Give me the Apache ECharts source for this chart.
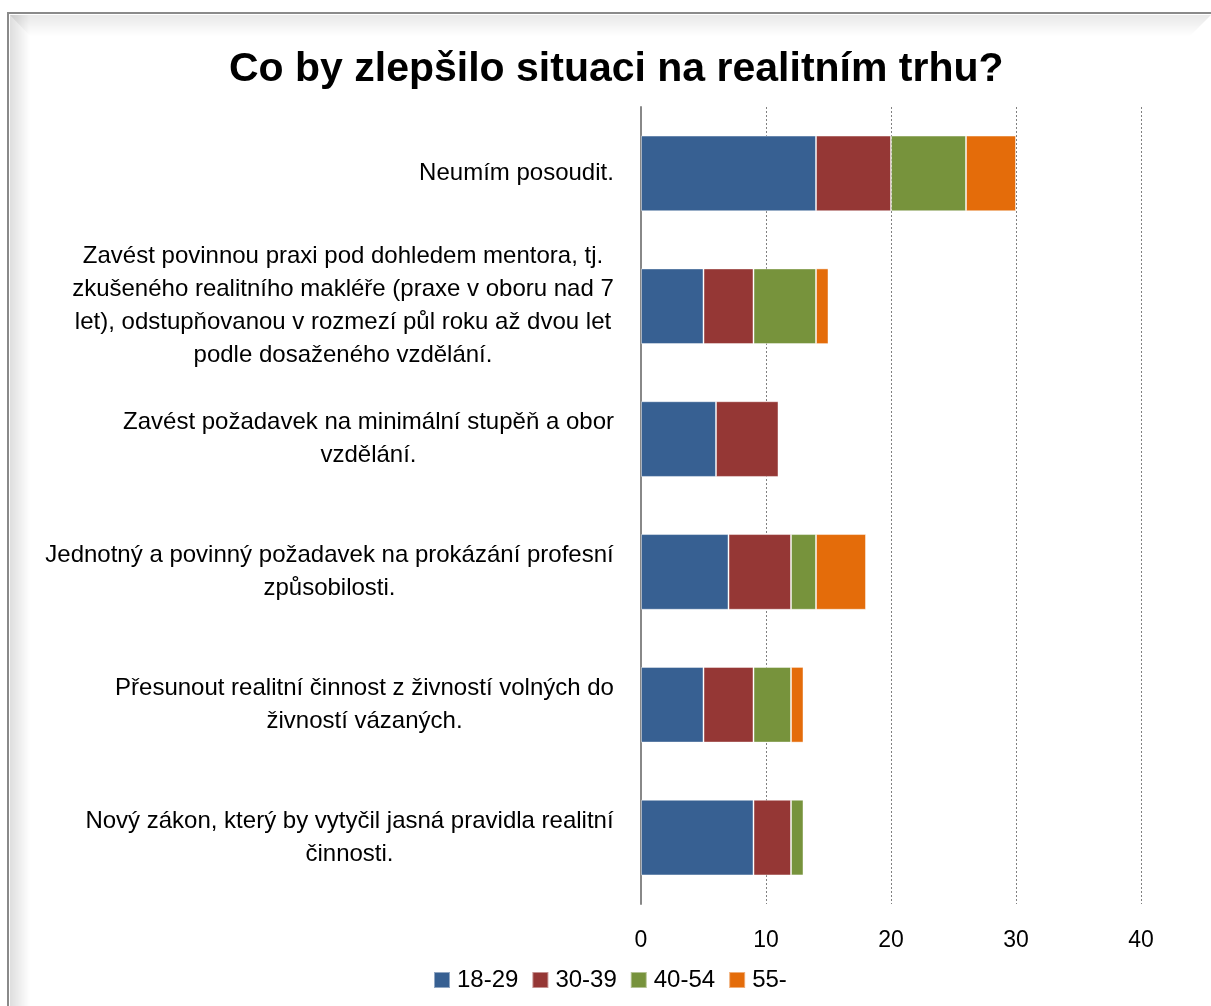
<!DOCTYPE html>
<html><head><meta charset="utf-8">
<script src="https://cdn.jsdelivr.net/npm/echarts@6/dist/echarts.min.js"></script>
<style>html,body{margin:0;padding:0;background:#fff}#c{width:1211px;height:1006px}</style>
</head><body><div id="c"></div>
<script>
const categories = [
  "Neumím posoudit.",
  "Zavést povinnou praxi pod dohledem mentora, tj.\nzkušeného realitního makléře (praxe v oboru nad 7\nlet), odstupňovanou v rozmezí půl roku až dvou let\npodle dosaženého vzdělání.",
  "Zavést požadavek na minimální stupěň a obor\nvzdělání.",
  "Jednotný a povinný požadavek na prokázání profesní\nzpůsobilosti.",
  "Přesunout realitní činnost z živností volných do\nživností vázaných.",
  "Nový zákon, který by vytyčil jasná pravidla realitní\nčinnosti."
];
const seriesNames = ["18-29", "30-39", "40-54", "55-"];
const s1829 = [14, 5, 6, 7, 5, 9];
const s3039 = [6, 4, 5, 5, 4, 3];
const s4054 = [6, 5, 0, 2, 3, 1];
const s55 = [4, 1, 0, 4, 1, 0];
const xTicks = [0, 10, 20, 30, 40];

const colors = ["#376092", "#953735", "#77933C", "#E46C0A"];
const labelFont = "Liberation Sans";
const labelSize = 24;

const ctx = document.createElement("canvas").getContext("2d");
ctx.font = labelSize + "px '" + labelFont + "'";
const rich = {};
categories.forEach((c, i) => {
  const w = Math.max(...c.split("\n").map(l => ctx.measureText(l).width));
  rich["c" + i] = {width: Math.ceil(w) + 2, align: "center", fontSize: labelSize, fontFamily: labelFont, color: "#000", lineHeight: 33};
});

const chart = echarts.init(document.getElementById("c"), null, {renderer: "canvas"});
const allSeries = [s1829, s3039, s4054, s55].map((d, i) => ({
  name: seriesNames[i], type: "bar", stack: "total", data: d,
  barCategoryGap: "43%",
  itemStyle: {color: colors[i], borderColor: "rgba(255,255,255,0.45)", borderWidth: 1},
  emphasis: {disabled: true}
}));

chart.setOption({
  animation: false,
  title: {
    text: "Co by zlepšilo situaci na realitním trhu?",
    left: 224, top: 44,
    textStyle: {fontFamily: labelFont, fontWeight: "bold", fontSize: 41, color: "#000"}
  },
  legend: {
    data: seriesNames, bottom: 9, left: 428,
    itemWidth: 16, itemHeight: 16, itemGap: 13, icon: "rect",
    textStyle: {fontFamily: labelFont, fontSize: 24, color: "#000", padding: [0, 0, 0, 2]}
  },
  grid: {left: 641, right: 70, top: 107, bottom: 102, containLabel: false},
  xAxis: {
    type: "value", min: 0, max: 40, interval: 10,
    axisLine: {show: false}, axisTick: {show: false},
    splitLine: {show: true, lineStyle: {type: [2, 2], color: "#808080", width: 1}},
    axisLabel: {margin: 25, fontFamily: labelFont, fontSize: 23, color: "#000",
      formatter: v => xTicks.includes(v) ? String(v) : ""}
  },
  yAxis: {
    type: "category", data: categories, inverse: true,
    axisLine: {show: true, lineStyle: {color: "#888", width: 2}},
    axisTick: {show: false},
    axisLabel: {
      margin: 26, align: "right",
      formatter: (v, idx) => v.split("\n").map(l => "{c" + idx + "|" + l + "}").join("\n"),
      rich: rich
    }
  },
  series: allSeries,
  graphic: [
    {type: "rect", silent: true, z: -1, shape: {x: 10, y: 15, width: 20, height: 1000},
      style: {fill: new echarts.graphic.LinearGradient(0, 0, 1, 0, [{offset: 0, color: "rgba(0,0,0,0.13)"}, {offset: 1, color: "rgba(0,0,0,0)"}])}},
    {type: "polygon", silent: true, z: -1, shape: {points: [[10, 15], [1211, 15], [1190, 36], [30, 36]]},
      style: {fill: new echarts.graphic.LinearGradient(0, 0, 0, 1, [{offset: 0, color: "rgba(0,0,0,0.09)"}, {offset: 1, color: "rgba(0,0,0,0)"}])}},
    {type: "rect", silent: true, z: 10, shape: {x: 8, y: 13, width: 1260, height: 1060},
      style: {fill: "none", stroke: "#8a8a8a", lineWidth: 2}}
  ]
});
</script></body></html>
